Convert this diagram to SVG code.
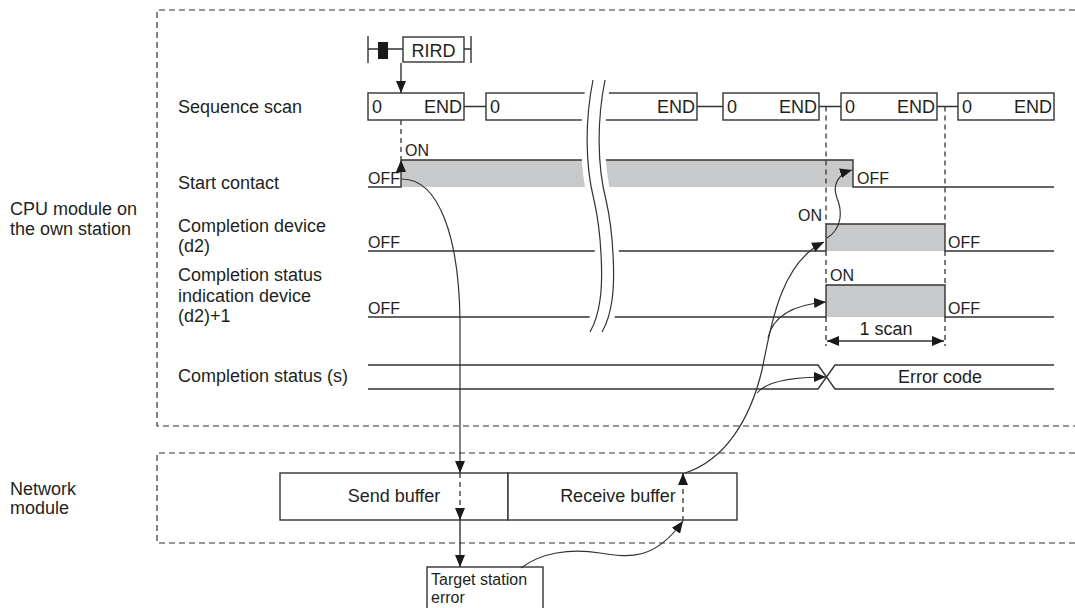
<svg xmlns="http://www.w3.org/2000/svg" width="1075" height="608" viewBox="0 0 1075 608">
<style>
text{font-family:"Liberation Sans",Arial,sans-serif;fill:#231f20}
.lb{font-size:18px}
.sm{font-size:16px}
.ln{fill:none;stroke:#333;stroke-width:1.4}
.th{fill:none;stroke:#333;stroke-width:1.2}
.ds{fill:none;stroke:#333;stroke-width:1.3;stroke-dasharray:5,4}
.bd{fill:none;stroke:#333;stroke-width:1.2;stroke-dasharray:6,4}
.sh{fill:#c8c9ca;stroke:none}
.bx{fill:#fff;stroke:#333;stroke-width:1.4}
</style>
<defs>
<marker id="ah" markerUnits="userSpaceOnUse" markerWidth="12" markerHeight="10" refX="12" refY="5" orient="auto-start-reverse" viewBox="0 0 12 10">
<path d="M0,0 L12,5 L0,10 z" fill="#1a1a1a"/>
</marker>
</defs>
<rect width="1075" height="608" fill="#fff"/>

<!-- dashed module frames -->
<g id="cpu-frame">
<path class="bd" d="M1075,10 H157 V426 H1075"/>
<text class="lb" x="10" y="215">CPU module on</text>
<text class="lb" x="10" y="235">the own station</text>
</g>
<g id="net-frame">
<path class="bd" d="M1075,453 H157 V543 H1075"/>
<text class="lb" x="10" y="495">Network</text>
<text class="lb" x="10" y="514">module</text>
</g>

<!-- row labels -->
<g id="labels">
<text class="lb" x="178" y="113">Sequence scan</text>
<text class="lb" x="178" y="189">Start contact</text>
<text class="lb" x="178" y="232">Completion device</text>
<text class="lb" x="178" y="252">(d2)</text>
<text class="lb" x="178" y="281">Completion status</text>
<text class="lb" x="178" y="302">indication device</text>
<text class="lb" x="178" y="322">(d2)+1</text>
<text class="lb" x="178" y="382">Completion status (s)</text>
</g>

<!-- RIRD ladder -->
<g id="rird">
<path class="ln" d="M368,36 V63 M368,49 H403 M464,49 H471 M471,36 V63"/>
<rect x="378" y="42" width="10" height="17" fill="#1a1a1a"/>
<rect class="bx" x="403" y="37" width="61" height="25"/>
<text class="lb" x="433.5" y="57" text-anchor="middle">RIRD</text>
</g>

<!-- sequence scan -->
<g id="seq">
<path class="ln" d="M464,106.5 H486 M697,106.5 H723 M819,106.5 H841 M937,106.5 H958"/>
<rect class="bx" x="368" y="93" width="96" height="27"/>
<rect class="bx" x="486" y="93" width="211" height="27"/>
<rect class="bx" x="723" y="93" width="96" height="27"/>
<rect class="bx" x="841" y="93" width="96" height="27"/>
<rect class="bx" x="958" y="93" width="96" height="27"/>
</g>

<!-- timing rows -->
<g id="start-contact">
<polygon class="sh" points="401,160 853,160 853,187 401,187"/>
<path class="ln" d="M368,187 H401 V170 M401,160 H853 V187 H1054"/>
</g>
<g id="completion-device">
<rect class="sh" x="826" y="224" width="119" height="27"/>
<path class="ln" d="M368,251 H826 V224 H945 V251 H1054"/>
</g>
<g id="status-indication">
<rect class="sh" x="826" y="285" width="119" height="32"/>
<path class="ln" d="M368,317 H826 V285 H945 V317 H1054"/>
</g>
<g id="completion-status">
<path class="ln" d="M368,365 H818 L835,389 H1054 M368,389 H818 L835,365 H1054"/>
<text class="lb" x="940" y="383" text-anchor="middle">Error code</text>
</g>

<!-- break (white band with double curve) -->
<g id="break">
<path d="M599,80 C591,120 591,165 600,200 C608,235 609,280 606,300 C604,315 600,325 596,332" fill="none" stroke="#fff" stroke-width="24"/>
<path class="th" d="M593,80 C585,120 585,165 594,200 C602,235 603,280 600,300 C598,315 594,325 590,332"/>
<path class="th" d="M605,80 C597,120 597,165 606,200 C614,235 615,280 612,300 C610,315 606,325 602,332"/>
</g>

<!-- texts in sequence boxes and state labels -->
<g id="seq-text">
<text class="lb" x="372" y="113">0</text>
<text class="lb" x="462" y="113" text-anchor="end">END</text>
<text class="lb" x="490" y="113">0</text>
<text class="lb" x="695" y="113" text-anchor="end">END</text>
<text class="lb" x="727" y="113">0</text>
<text class="lb" x="817" y="113" text-anchor="end">END</text>
<text class="lb" x="845" y="113">0</text>
<text class="lb" x="935" y="113" text-anchor="end">END</text>
<text class="lb" x="962" y="113">0</text>
<text class="lb" x="1052" y="113" text-anchor="end">END</text>
</g>
<g id="state-text">
<text class="sm" x="405" y="156">ON</text>
<text class="sm" x="368" y="184">OFF</text>
<text class="sm" x="857" y="184">OFF</text>
<text class="sm" x="822" y="221" text-anchor="end">ON</text>
<text class="sm" x="368" y="248">OFF</text>
<text class="sm" x="948" y="248">OFF</text>
<text class="sm" x="830" y="281">ON</text>
<text class="sm" x="368" y="314">OFF</text>
<text class="sm" x="948" y="314">OFF</text>
<text class="lb" x="886" y="335" text-anchor="middle">1 scan</text>
</g>

<!-- buffers -->
<g id="send-buffer">
<rect class="bx" x="280" y="473" width="228" height="47"/>
<text class="lb" x="394" y="502" text-anchor="middle">Send buffer</text>
</g>
<g id="receive-buffer">
<rect class="bx" x="508" y="473" width="229" height="47"/>
<text class="lb" x="618" y="502" text-anchor="middle">Receive buffer</text>
</g>
<g id="target-error">
<rect class="bx" x="427" y="567" width="116" height="45"/>
<text class="sm" x="431" y="585">Target station</text>
<text class="sm" x="431" y="603">error</text>
</g>

<!-- connectors -->
<g id="connectors">
<path class="ln" d="M401,63 V93" marker-end="url(#ah)"/>
<path class="ds" d="M401,120 V160"/>
<path class="ln" d="M401,172 V160" marker-end="url(#ah)"/>
<path class="ds" d="M826,106.5 V224 M826,251 V285 M826,317 V346"/>
<path class="ds" d="M945,106.5 V224 M945,251 V285 M945,317 V346"/>
<path class="ln" d="M827,341 H944" marker-start="url(#ah)" marker-end="url(#ah)"/>
<path class="th" d="M402,179 C440,179 459,240 460,320 L460,473" marker-end="url(#ah)"/>
<path class="ds" d="M460,473 V520"/>
<path class="ln" d="M460,508 V520" marker-end="url(#ah)"/>
<path class="ln" d="M460,520 V567" marker-end="url(#ah)"/>
<path class="th" d="M521,568 C540,553 570,548 600,553 C630,558 655,560 683,521" marker-end="url(#ah)"/>
<path class="ds" d="M683,521 V478"/>
<path class="ln" d="M683,485 V473" marker-end="url(#ah)"/>
<path class="th" d="M685,473 C725,460 750,420 762,370 C772,320 782,262 824,242" marker-end="url(#ah)"/>
<path class="th" d="M768,338 C772,320 788,305 826,302" marker-end="url(#ah)"/>
<path class="th" d="M757,393 C765,383 785,377 826,377" marker-end="url(#ah)"/>
<path class="th" d="M827,238 C843,228 842,210 837,198 C832,185 838,174 852,170" marker-end="url(#ah)"/>
</g>
</svg>
